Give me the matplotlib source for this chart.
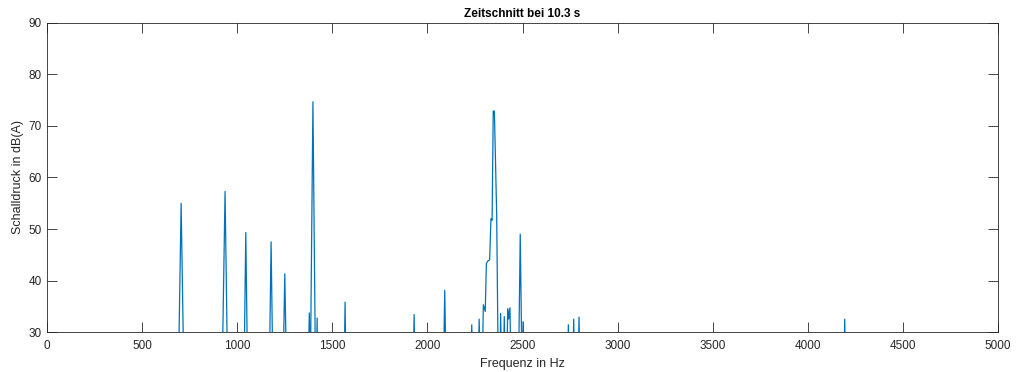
import matplotlib
matplotlib.use("Agg")
import matplotlib.pyplot as plt

plt.rcParams['font.family'] = ['Liberation Sans', 'DejaVu Sans']

# spectrum points (Hz, dB(A)); values below 30 lie outside the axes
freq = [0, 690, 705, 720,
        920, 936, 950,
        1035, 1045, 1055,
        1168, 1178, 1188,
        1240, 1250, 1260,
        1372, 1379, 1384, 1398, 1412, 1416, 1420, 1424,
        1561, 1567, 1573,
        1924, 1930, 1936,
        2083, 2091, 2099,
        2227, 2233, 2239,
        2265, 2272, 2279,
        2287, 2294, 2304, 2310, 2318, 2327, 2334, 2340, 2346, 2352, 2364, 2373,
        2379, 2385, 2391,
        2398, 2404, 2410,
        2416, 2422, 2427, 2434, 2440,
        2478, 2488, 2498, 2503, 2508,
        2735, 2741, 2747,
        2763, 2769, 2775,
        2791, 2797, 2803,
        4188, 4194, 4200, 5000]
level = [20, 20, 55.0, 20,
         20, 57.3, 20,
         20, 49.3, 20,
         20, 47.5, 20,
         20, 41.3, 20,
         20, 33.7, 20, 74.7, 20, 20, 32.7, 20,
         20, 35.8, 20,
         20, 33.4, 20,
         20, 38.1, 20,
         20, 31.4, 20,
         20, 32.5, 20,
         20, 35.3, 34.0, 43.3, 43.8, 44.0, 52.0, 51.7, 72.9, 72.9, 53.0, 20,
         20, 33.6, 20,
         20, 33.0, 20,
         20, 34.5, 32.5, 34.7, 20,
         20, 49.0, 20, 32.0, 20,
         20, 31.4, 20,
         20, 32.5, 20,
         20, 32.9, 20,
         20, 32.5, 20, 20]

title = 'Zeitschnitt bei 10.3 s'
xlabel = 'Frequenz in Hz'
ylabel = 'Schalldruck in dB(A)'

fig = plt.figure(figsize=(10.16, 3.72), dpi=100)
ax = fig.add_axes([0.0463, 0.1075, 0.9360, 0.8307])
ax.plot(freq, level, color='#0072BD', lw=0.9)

ax.set_xlim(0, 5000)
ax.set_ylim(30, 90)
ax.set_xticks(range(0, 5001, 500))
ax.set_yticks(range(30, 91, 10))
ax.tick_params(direction='in', length=7, width=0.6, top=True, right=True,
               labelsize=8.5, colors='#262626')
ax.tick_params(axis='x', pad=6)
ax.tick_params(axis='y', pad=4)
for s in ax.spines.values():
    s.set_color('#262626')
    s.set_linewidth(0.6)

ax.set_title(title, fontsize=8.5, fontweight='bold', pad=4)
ax.set_xlabel(xlabel, fontsize=9, color='#262626', labelpad=4)
ax.set_ylabel(ylabel, fontsize=9, color='#262626', labelpad=3)

fig.savefig('out.png', dpi=100)
